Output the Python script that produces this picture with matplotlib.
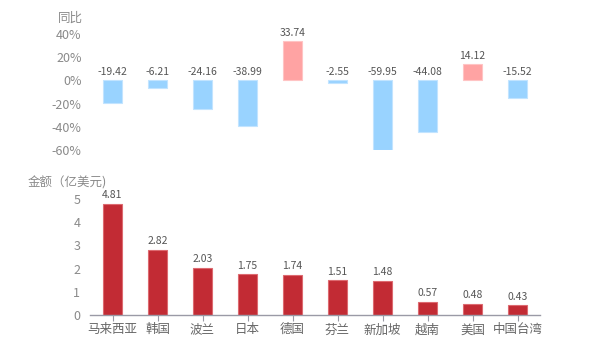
import matplotlib
matplotlib.use("Agg")
import matplotlib.pyplot as plt
import numpy as np

plt.rcParams['font.family'] = ['Noto Sans CJK SC', 'DejaVu Sans']

categories = ["马来西亚", "韩国", "波兰", "日本", "德国", "芬兰", "新加坡", "越南", "美国", "中国台湾"]
yoy = [-19.42, -6.21, -24.16, -38.99, 33.74, -2.55, -59.95, -44.08, 14.12, -15.52]
amount = [4.81, 2.82, 2.03, 1.75, 1.74, 1.51, 1.48, 0.57, 0.48, 0.43]

TICK_C = "#8a8a8a"
TEXT_C = "#555555"

fig = plt.figure(figsize=(6, 3.5), dpi=100)
ax1 = fig.add_axes([0.15, 0.571, 0.75, 0.332])
ax2 = fig.add_axes([0.15, 0.10, 0.75, 0.331])

x = np.arange(len(categories))

# ---- top: year-on-year change
cols = ["#ffa3a3" if v > 0 else "#99d3ff" for v in yoy]
edges = ["#ffc4c4" if v > 0 else "#c2e4ff" for v in yoy]
ax1.bar(x, yoy, width=0.44, color=cols, edgecolor=edges, linewidth=0.8)
for xi, v in zip(x, yoy):
    ax1.text(xi, max(v, 0) + 3, f"{v:.2f}", ha="center", va="bottom",
             fontsize=7.5, color=TEXT_C)
ax1.set_xlim(-0.5, len(categories) - 0.5)
ax1.set_ylim(-60, 40)
ax1.set_yticks([40, 20, 0, -20, -40, -60])
ax1.set_yticklabels(["40%", "20%", "0%", "-20%", "-40%", "-60%"])
ax1.set_xticks([])
for s in ax1.spines.values():
    s.set_visible(False)
ax1.tick_params(axis="y", length=0, labelsize=9, colors=TICK_C, pad=6)
fig.text(70 / 600, 1 - 18 / 350, "同比", ha="center", va="center",
         fontsize=9, color=TICK_C)

# ---- bottom: amount
ax2.bar(x, amount, width=0.44, color="#c22b34", edgecolor="#dd6a70", linewidth=0.8)
for xi, v in zip(x, amount):
    ax2.text(xi, v + 0.15, f"{v:.2f}", ha="center", va="bottom",
             fontsize=7.5, color=TEXT_C)
ax2.set_xlim(-0.5, len(categories) - 0.5)
ax2.set_ylim(0, 5)
ax2.set_yticks([0, 1, 2, 3, 4, 5])
ax2.set_xticks(x)
ax2.set_xticklabels(categories)
for s in ["top", "right", "left"]:
    ax2.spines[s].set_visible(False)
ax2.spines["bottom"].set_color("#9a9aa6")
ax2.spines["bottom"].set_linewidth(1)
ax2.tick_params(axis="y", length=0, labelsize=9, colors=TICK_C, pad=7)
ax2.tick_params(axis="x", length=4, color="#9a9aa6", labelsize=9,
                labelcolor="#666666", pad=2)
fig.text(28 / 600, 1 - 183 / 350, "金额（亿美元)", ha="left", va="center",
         fontsize=9, color=TICK_C)

fig.savefig("out.png", dpi=100)
